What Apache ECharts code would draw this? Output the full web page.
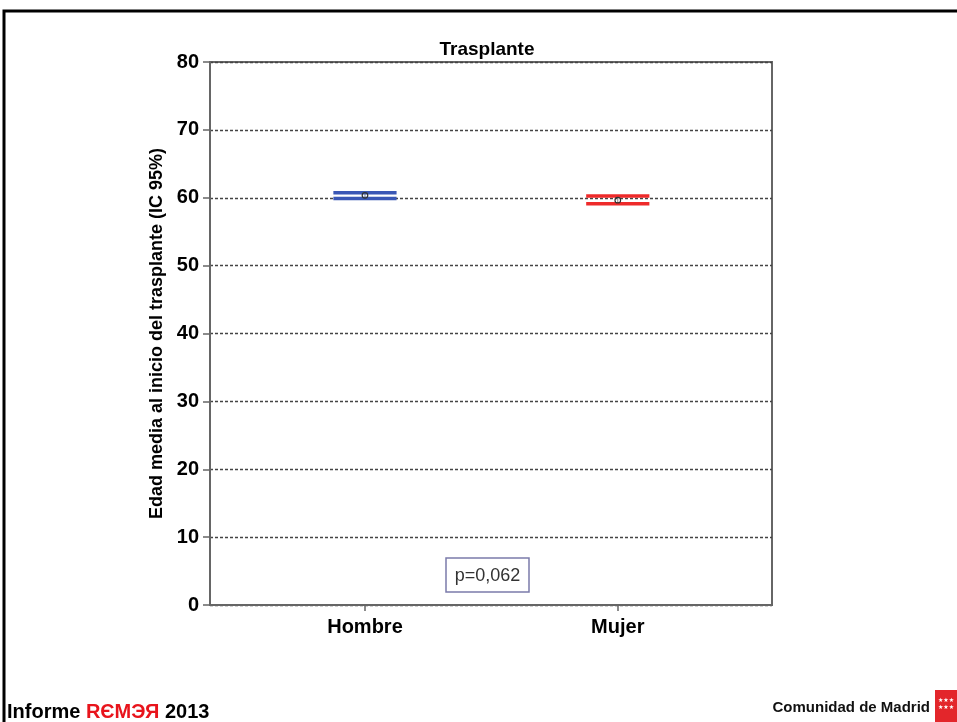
<!DOCTYPE html>
<html>
<head>
<meta charset="utf-8">
<title>Trasplante</title>
<script src="https://cdn.jsdelivr.net/npm/echarts@6/dist/echarts.min.js"></script>
<style>
  html, body { margin: 0; padding: 0; background: #ffffff; }
  #chart { width: 957px; height: 722px; }
</style>
</head>
<body>
<div id="chart"></div>
<script>
// Mean age at start of transplant with 95% confidence interval, by sex
const categories = ['Hombre', 'Mujer'];
const meanAge = [60.35, 59.65];
const ciLow = [59.9, 59.1];
const ciHigh = [60.75, 60.25];
const seriesColors = ['#3a57b5', '#ee2a2a'];
const yTicks = [0, 10, 20, 30, 40, 50, 60, 70, 80];
const pValueText = 'p=0,062';

const errorData = categories.map((c, i) => [i + 1, ciLow[i], ciHigh[i], meanAge[i]]);

const chart = echarts.init(document.getElementById('chart'), null, { renderer: 'canvas' });

const FONT = '"Liberation Sans", Arial, sans-serif';

chart.setOption({
  animation: false,
  backgroundColor: '#ffffff',
  grid: { left: 210, top: 62, right: 185, bottom: 117, show: true, borderColor: '#666', borderWidth: 2, backgroundColor: 'transparent' },
  xAxis: {
    type: 'value',
    min: 0.387,
    max: 2.61,
    splitLine: { show: false },
    axisLine: { show: true, onZero: false, lineStyle: { color: '#666', width: 2 } },
    axisTick: { show: true, customValues: [1, 2], length: 6, lineStyle: { color: '#666', width: 1.5 } },
    axisLabel: {
      customValues: [1, 2],
      formatter: v => categories[Math.round(v) - 1] || '',
      margin: 12,
      fontFamily: FONT, fontSize: 20, fontWeight: 'bold', color: '#000'
    }
  },
  yAxis: {
    type: 'value',
    min: yTicks[0],
    max: yTicks[yTicks.length - 1],
    interval: 10,
    name: 'Edad media al inicio del trasplante (IC 95%)',
    nameLocation: 'middle',
    nameGap: 44,
    nameRotate: 90,
    nameTextStyle: { fontFamily: FONT, fontSize: 18, fontWeight: 'bold', color: '#000' },
    axisLine: { show: true, lineStyle: { color: '#666', width: 2 } },
    axisTick: { show: true, length: 7, lineStyle: { color: '#666', width: 1.5 } },
    axisLabel: { margin: 11, fontFamily: FONT, fontSize: 20, fontWeight: 'bold', color: '#000' },
    splitLine: { show: true, lineStyle: { color: '#444', width: 1.3, type: [3, 2] } }
  },
  series: [{
    type: 'custom',
    data: errorData,
    encode: { x: 0, y: [1, 2, 3] },
    renderItem: function (params, api) {
      const i = params.dataIndex;
      const x = api.value(0);
      const lo = api.coord([x, api.value(1)]);
      const hi = api.coord([x, api.value(2)]);
      const mid = api.coord([x, api.value(3)]);
      const half = api.size([0.125, 0])[0];
      const col = seriesColors[i];
      return {
        type: 'group',
        children: [
          { type: 'line', shape: { x1: hi[0], y1: hi[1], x2: lo[0], y2: lo[1] }, style: { stroke: '#888', lineWidth: 1 } },
          { type: 'line', shape: { x1: hi[0] - half, y1: hi[1], x2: hi[0] + half, y2: hi[1] }, style: { stroke: col, lineWidth: 3.5 } },
          { type: 'line', shape: { x1: lo[0] - half, y1: lo[1], x2: lo[0] + half, y2: lo[1] }, style: { stroke: col, lineWidth: 3.5 } },
          { type: 'circle', shape: { cx: mid[0], cy: mid[1], r: 2.8 }, style: { fill: 'none', stroke: '#333', lineWidth: 1.2 } }
        ]
      };
    }
  }],
  graphic: [
    // chart title
    { type: 'text', x: 487, y: 50, style: { text: 'Trasplante', fontFamily: FONT, fontSize: 19, fontWeight: 'bold', fill: '#000', align: 'center', verticalAlign: 'middle' } },
    // outer page frame
    { type: 'polyline', shape: { points: [[4, 722], [4, 11], [957, 11]] }, style: { stroke: '#000', lineWidth: 3, fill: null } },
    // p-value box
    { type: 'rect', shape: { x: 446, y: 558, width: 83, height: 34 }, style: { fill: '#fff', stroke: '#7b7baa', lineWidth: 1.5 } },
    { type: 'text', x: 487.5, y: 576, style: { text: pValueText, fontFamily: FONT, fontSize: 18, fill: '#333', align: 'center', verticalAlign: 'middle' } },
    // footer
    {
      type: 'text', x: 7, y: 712,
      style: {
        text: '{k|Informe }{r|RЄMЭЯ}{k| 2013}',
        verticalAlign: 'middle',
        rich: {
          k: { fontFamily: FONT, fontSize: 20, fontWeight: 'bold', fill: '#000' },
          r: { fontFamily: FONT, fontSize: 20, fontWeight: 'bold', fill: '#e8141c' }
        }
      }
    },
    { type: 'text', x: 930, y: 708, style: { text: 'Comunidad de Madrid', fontFamily: FONT, fontSize: 15, fontWeight: 'bold', fill: '#111', align: 'right', verticalAlign: 'middle' } },
    { type: 'rect', shape: { x: 935, y: 690, width: 22, height: 32 }, style: { fill: '#e3262b' } },
    { type: 'text', x: 946, y: 704, style: { text: '★★★\n★★★', fontFamily: '"DejaVu Sans", sans-serif', fontSize: 6, lineHeight: 7, fill: '#fff', align: 'center', verticalAlign: 'middle' } }
  ]
});
</script>
</body>
</html>
